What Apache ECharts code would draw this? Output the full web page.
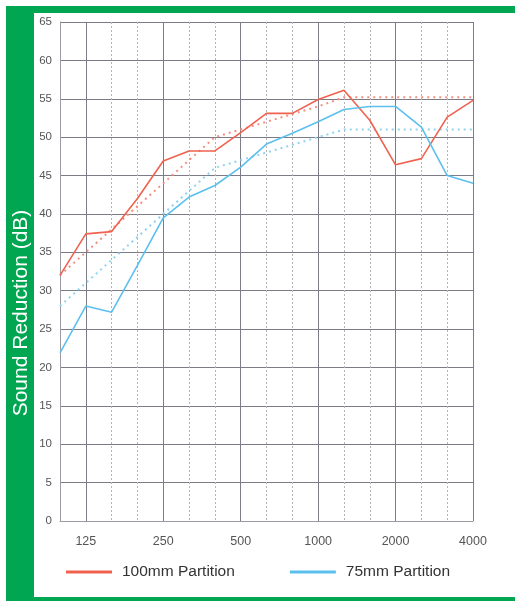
<!DOCTYPE html>
<html>
<head>
<meta charset="utf-8">
<script src="https://cdn.jsdelivr.net/npm/echarts@6/dist/echarts.min.js"></script>
<style>
html,body{margin:0;padding:0;background:#fff;}
#c{width:515px;height:601px;}
</style>
</head>
<body>
<div id="c"></div>
<script>
var frequencies = ['100','125','160','200','250','315','400','500','630','800','1000','1250','1600','2000','2500','3150','4000'];
var octaveLabels = ['125','250','500','1000','2000','4000'];
var yTicks = {min: 0, max: 65, interval: 5};

var partition100 = [32.0, 37.4, 37.7, 42.0, 46.9, 48.2, 48.2, 50.6, 53.1, 53.1, 54.9, 56.1, 52.2, 46.4, 47.2, 52.6, 54.8];
var partition100Ref = [32, 35, 38, 41, 44, 47, 50, 51, 52, 53, 54, 55.2, 55.2, 55.2, 55.2, 55.2, 55.2];
var partition75 = [21.9, 28.0, 27.2, 33.3, 39.5, 42.2, 43.7, 46.1, 49.1, 50.5, 52.0, 53.6, 54.0, 54.0, 51.3, 45.0, 44.0];
var partition75Ref = [28, 31, 34, 37, 40, 43, 46, 47, 48, 49, 50, 51, 51, 51, 51, 51, 51];

var seriesNames = ['100mm Partition', '75mm Partition'];
var yAxisTitle = 'Sound Reduction (dB)';

var red = '#f0624f', redLight = '#f4907f';
var blue = '#5cc0ee', blueLight = '#8fd3f2';
var green = '#00a651';

function isOctave(i) { return octaveLabels.indexOf(frequencies[i]) >= 0; }

var chart = echarts.init(document.getElementById('c'), null, {renderer: 'canvas'});
var font = '"Liberation Sans", Arial, sans-serif';
chart.setOption({
  backgroundColor: '#fff',
  animation: false,
  textStyle: {fontFamily: font},
  grid: {left: 60, right: 42, top: 22, bottom: 80, containLabel: false},
  graphic: [
    {type: 'rect', shape: {x: 6, y: 6, width: 509, height: 7}, style: {fill: green}, z: 100},
    {type: 'rect', shape: {x: 6, y: 6, width: 28, height: 595}, style: {fill: green}, z: 100},
    {type: 'rect', shape: {x: 6, y: 597, width: 509, height: 4}, style: {fill: green}, z: 100},
    {type: 'text', x: 21, y: 313, rotation: Math.PI / 2, z: 101,
     style: {text: yAxisTitle, fill: '#fff', font: '21px ' + font, textAlign: 'center', textVerticalAlign: 'middle'}}
  ],
  legend: {
    data: seriesNames,
    left: 66, top: 564,
    itemWidth: 46, itemHeight: 3, itemGap: 55,
    icon: 'rect',
    padding: 0,
    textStyle: {fontSize: 15.5, color: '#333', fontFamily: font, padding: [0, 0, 0, 5]}
  },
  xAxis: [
    {
      type: 'category', data: frequencies, boundaryGap: false,
      axisLine: {show: true, lineStyle: {color: '#9a9aa2', width: 1}},
      axisTick: {show: false},
      axisLabel: {interval: function (i) { return isOctave(i); }, color: '#555', fontSize: 12.5, margin: 14, fontFamily: font},
      splitLine: {show: true, interval: function (i) { return isOctave(i); }, lineStyle: {color: '#7c7c88', width: 1}}
    },
    {
      type: 'category', data: frequencies, boundaryGap: false, position: 'bottom',
      axisLine: {show: false}, axisTick: {show: false}, axisLabel: {show: false},
      splitLine: {show: true, interval: function (i) { return !isOctave(i) && i > 0; }, lineStyle: {color: '#b4b4b8', width: 1, type: [2, 2]}}
    }
  ],
  yAxis: {
    type: 'value', min: yTicks.min, max: yTicks.max, interval: yTicks.interval,
    axisLine: {show: true, lineStyle: {color: '#9a9aa2', width: 1}},
    axisTick: {show: false},
    axisLabel: {color: '#555', fontSize: 11.5, margin: 8, fontFamily: font},
    splitLine: {show: true, lineStyle: {color: '#7c7c88', width: 1}}
  },
  series: [
    {name: seriesNames[0] + ' ref', type: 'line', data: partition100Ref, showSymbol: false, silent: true,
     lineStyle: {color: redLight, width: 2, type: [2, 4]}, z: 3},
    {name: seriesNames[1] + ' ref', type: 'line', data: partition75Ref, showSymbol: false, silent: true,
     lineStyle: {color: blueLight, width: 2, type: [2, 4]}, z: 3},
    {name: seriesNames[0], type: 'line', data: partition100, showSymbol: false,
     itemStyle: {color: red}, lineStyle: {color: red, width: 1.6}, z: 4},
    {name: seriesNames[1], type: 'line', data: partition75, showSymbol: false,
     itemStyle: {color: blue}, lineStyle: {color: blue, width: 1.6}, z: 4}
  ]
});
</script>
</body>
</html>
